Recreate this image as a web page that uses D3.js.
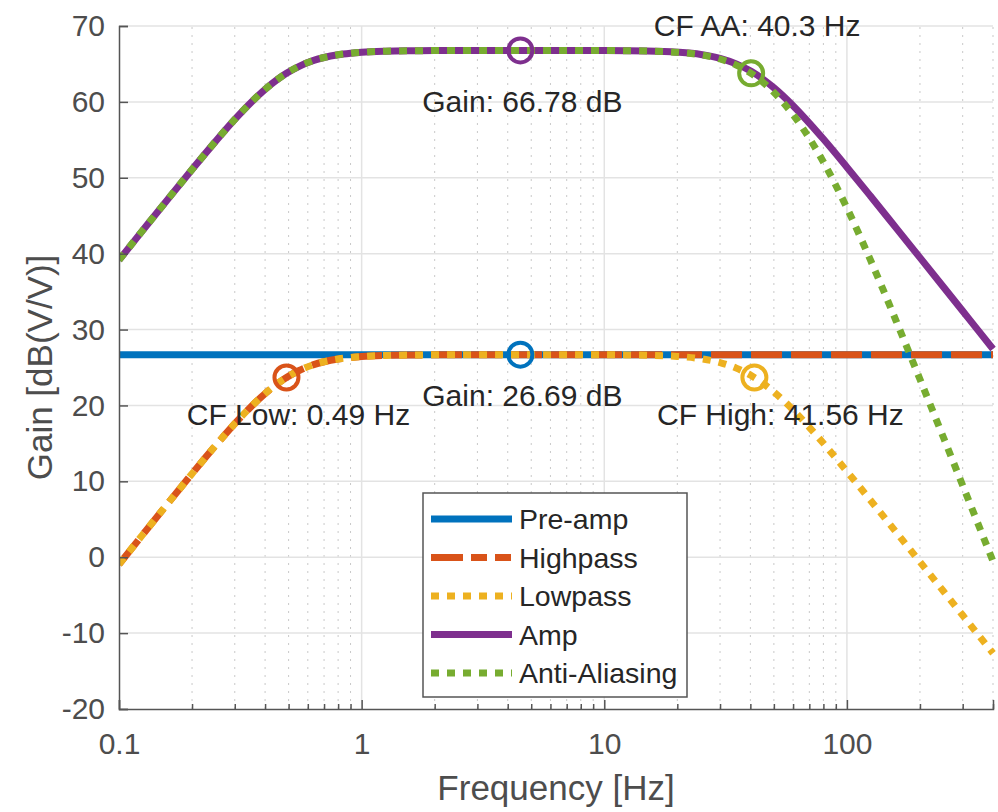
<!DOCTYPE html>
<html>
<head>
<meta charset="utf-8">
<style>
  body { margin: 0; background: #fff; }
  svg text { font-family: "Liberation Sans", Arial, Helvetica, sans-serif; }
</style>
</head>
<body>
<div class="chart"></div>
<script src="https://d3js.org/d3.v7.min.js"></script>
<script>
// data
const freqs = [0.1, 0.125, 0.16, 0.2, 0.25, 0.3, 0.35, 0.4, 0.45, 0.49, 0.55, 0.63, 0.7, 0.8, 0.9, 1,
               1.25, 1.6, 2, 3, 4.51, 7, 10, 15, 20, 25, 30, 35, 40.3, 45, 50, 60, 70, 80,
               100, 125, 160, 200, 250, 300, 350, 400];

const preAmp = freqs.map(() => 26.69);

const highpass = [-0.93, 2.94, 7.20, 11.00, 14.71, 17.60, 19.84, 21.57, 22.88, 23.68, 24.57, 25.34, 25.76, 26.12, 26.32, 26.45,
                  26.59, 26.65, 26.67, 26.69, 26.69, 26.69, 26.69, 26.69, 26.69, 26.69, 26.69, 26.69, 26.69, 26.69, 26.69, 26.69, 26.69, 26.69,
                  26.69, 26.69, 26.69, 26.69, 26.69, 26.69, 26.69, 26.69];

const lowpass = [-0.93, 2.94, 7.20, 11.00, 14.71, 17.60, 19.84, 21.57, 22.88, 23.68, 24.57, 25.34, 25.76, 26.12, 26.32, 26.45,
                 26.59, 26.65, 26.67, 26.69, 26.69, 26.69, 26.68, 26.62, 26.46, 26.16, 25.65, 24.92, 23.94, 22.93, 21.78, 19.41, 17.12, 15.01,
                 11.31, 7.51, 3.25, -0.61, -4.48, -7.65, -10.33, -12.65];

const amp = [39.16, 43.03, 47.29, 51.09, 54.80, 57.69, 59.93, 61.66, 62.97, 63.77, 64.66, 65.43, 65.85, 66.21, 66.41, 66.54,
             66.68, 66.74, 66.76, 66.78, 66.78, 66.78, 66.77, 66.71, 66.55, 66.25, 65.74, 65.01, 64.03, 63.02, 61.87, 59.50, 57.21, 55.10,
             51.40, 47.60, 43.34, 39.48, 35.61, 32.44, 29.76, 27.44];

const antiAliasing = [39.16, 43.03, 47.29, 51.09, 54.80, 57.69, 59.93, 61.66, 62.97, 63.77, 64.66, 65.43, 65.85, 66.21, 66.41, 66.54,
                      66.68, 66.74, 66.76, 66.78, 66.78, 66.78, 66.77, 66.70, 66.53, 66.21, 65.65, 64.85, 63.76, 62.61, 61.25, 58.31, 55.21, 52.09,
                      46.03, 39.17, 31.04, 23.45, 15.77, 9.46, 4.11, -0.53];

const seriesNames = ["Pre-amp", "Highpass", "Lowpass", "Amp", "Anti-Aliasing"];

// marker points + labels
const markerFreqs  = [4.51, 4.51, 0.49, 41.56, 40.3];
const markerGains  = [26.69, 66.78, 23.68, 23.68, 63.76];
const markerLabels = ["Gain: 26.69 dB", "Gain: 66.78 dB", "CF Low: 0.49 Hz", "CF High: 41.56 Hz", "CF AA: 40.3 Hz"];

const xTicks = [0.1, 1, 10, 100];
const xTickLabels = ["0.1", "1", "10", "100"];
const yTicks = [-20, -10, 0, 10, 20, 30, 40, 50, 60, 70];

// ---- layout / style ----
const width = 998, height = 812;
const margin = {top: 26, right: 5, bottom: 103, left: 119};
const fontFamily = '"Liberation Sans", Arial, Helvetica, sans-serif';

const colors = ["#0072BD", "#D95319", "#EDB120", "#7E2F8E", "#77AC30"];
const dashes = [null, "31,9", "8,8", null, "8,8"];
const legendDashes = [null, "32,8,16,8,16,8", "8,8", null, "8,8"];
// which series each marker belongs to
const markerSeries = [0, 3, 1, 2, 4];
// label offset from its marker (px)
const labelOffsets = [[2, 51], [2, 62], [12, 47], [26, 47], [6, -37]];

const allSeries = [preAmp, highpass, lowpass, amp, antiAliasing];

const svg = d3.select('.chart')
              .append('svg')
              .attr('width', width)
              .attr('height', height);

const xScale = d3.scaleLog()
                 .domain([0.1, 400])
                 .range([margin.left, width - margin.right]);

const yScale = d3.scaleLinear()
                 .domain([-20, 70])
                 .range([height - margin.bottom, margin.top]);

const x0 = xScale.range()[0], x1 = xScale.range()[1];
const y0 = yScale.range()[0], y1 = yScale.range()[1];

// minor x values (2..9 in each decade)
const minorX = [];
[0.1, 1, 10, 100].forEach(d => {
  for (let k = 2; k <= 9; k++) {
    const v = d * k;
    if (v <= 400.0001) minorX.push(v);
  }
});

// grid
const grid = svg.append("g");
grid.selectAll(".minor")
    .data(minorX)
    .join("line")
    .attr("x1", d => xScale(d)).attr("x2", d => xScale(d))
    .attr("y1", y0).attr("y2", y1)
    .attr("stroke", "#c9c9c9")
    .attr("stroke-width", 1)
    .attr("stroke-dasharray", "2,6");

grid.selectAll(".majx")
    .data(xTicks.slice(1))
    .join("line")
    .attr("x1", d => xScale(d)).attr("x2", d => xScale(d))
    .attr("y1", y0).attr("y2", y1)
    .attr("stroke", "#e3e3e3")
    .attr("stroke-width", 1.5);

grid.selectAll(".majy")
    .data(yTicks.slice(1))
    .join("line")
    .attr("x1", x0).attr("x2", x1)
    .attr("y1", d => yScale(d)).attr("y2", d => yScale(d))
    .attr("stroke", "#e3e3e3")
    .attr("stroke-width", 1.5);

// lines
svg.append("clipPath").attr("id", "clip")
   .append("rect")
   .attr("x", x0).attr("y", y1 - 5)
   .attr("width", x1 - x0 + 3).attr("height", y0 - y1 + 5);

const line = d3.line()
               .x(d => xScale(d[0]))
               .y(d => yScale(d[1]))
               .curve(d3.curveMonotoneX);

const lines = svg.append("g").attr("clip-path", "url(#clip)");
allSeries.forEach((s, i) => {
  lines.append("path")
       .datum(freqs.map((f, j) => [f, s[j]]))
       .attr("d", line)
       .attr("fill", "none")
       .attr("stroke", colors[i])
       .attr("stroke-width", 7)
       .attr("stroke-dasharray", dashes[i]);
});

// axes (MATLAB style, ticks inward)
const tickColor = "#555";

const yAxis = d3.axisLeft(yScale)
                .tickValues(yTicks)
                .tickFormat(d => String(d))
                .tickSize(-9)
                .tickPadding(14);
const yAxisGroup = svg.append("g")
                      .attr("transform", `translate(${x0},0)`)
                      .call(yAxis);

const xAxis = d3.axisBottom(xScale)
                .tickValues(xTicks)
                .tickFormat((d, i) => xTickLabels[i])
                .tickSize(-9)
                .tickPadding(24);
const xAxisGroup = svg.append("g")
                      .attr("transform", `translate(0,${y0})`)
                      .call(xAxis);

const xMinorAxis = d3.axisBottom(xScale)
                     .tickValues(minorX)
                     .tickFormat("")
                     .tickSize(-5);
svg.append("g")
   .attr("transform", `translate(0,${y0})`)
   .call(xMinorAxis)
   .call(g => g.select(".domain").remove());

[yAxisGroup, xAxisGroup].forEach(g => {
  g.select(".domain").attr("stroke", tickColor).attr("stroke-width", 1.5);
  g.selectAll(".tick text")
   .attr("fill", "#4d4d4d")
   .style("font-size", "30px")
   .style("font-family", fontFamily);
});
svg.selectAll(".tick line").attr("stroke", tickColor).attr("stroke-width", 1.5);

// axis labels
svg.append("text")
   .attr("x", (x0 + x1) / 2)
   .attr("y", 800)
   .attr("text-anchor", "middle")
   .attr("fill", "#4d4d4d")
   .style("font-size", "35px")
   .text("Frequency [Hz]");

svg.append("text")
   .attr("transform", `translate(52,${(y0 + y1) / 2}) rotate(-90)`)
   .attr("text-anchor", "middle")
   .attr("fill", "#4d4d4d")
   .style("font-size", "35px")
   .text("Gain [dB(V/V)]");

// markers
svg.selectAll(".marker")
   .data(markerFreqs)
   .join("circle")
   .attr("cx", d => xScale(d))
   .attr("cy", (d, i) => yScale(markerGains[i]))
   .attr("r", 12)
   .attr("fill", "none")
   .attr("stroke", (d, i) => colors[markerSeries[i]])
   .attr("stroke-width", 4);

svg.selectAll(".mlabel")
   .data(markerLabels)
   .join("text")
   .attr("x", (d, i) => xScale(markerFreqs[i]) + labelOffsets[i][0])
   .attr("y", (d, i) => yScale(markerGains[i]) + labelOffsets[i][1])
   .attr("text-anchor", "middle")
   .attr("fill", "#262626")
   .style("font-size", "30px")
   .text(d => d);

// legend
const legend = svg.append("g");
legend.append("rect")
      .attr("x", 423).attr("y", 493)
      .attr("width", 264).attr("height", 204)
      .attr("fill", "#fff")
      .attr("stroke", "#555")
      .attr("stroke-width", 1.5);

const rowY = i => 519 + i * 38.5;
seriesNames.forEach((name, i) => {
  legend.append("line")
        .attr("x1", 431).attr("x2", 512)
        .attr("y1", rowY(i)).attr("y2", rowY(i))
        .attr("stroke", colors[i])
        .attr("stroke-width", 7)
        .attr("stroke-dasharray", legendDashes[i]);
  legend.append("text")
        .attr("x", 519)
        .attr("y", rowY(i) + 10)
        .attr("fill", "#262626")
        .style("font-size", "28.5px")
        .text(name);
});
</script>
</body>
</html>
